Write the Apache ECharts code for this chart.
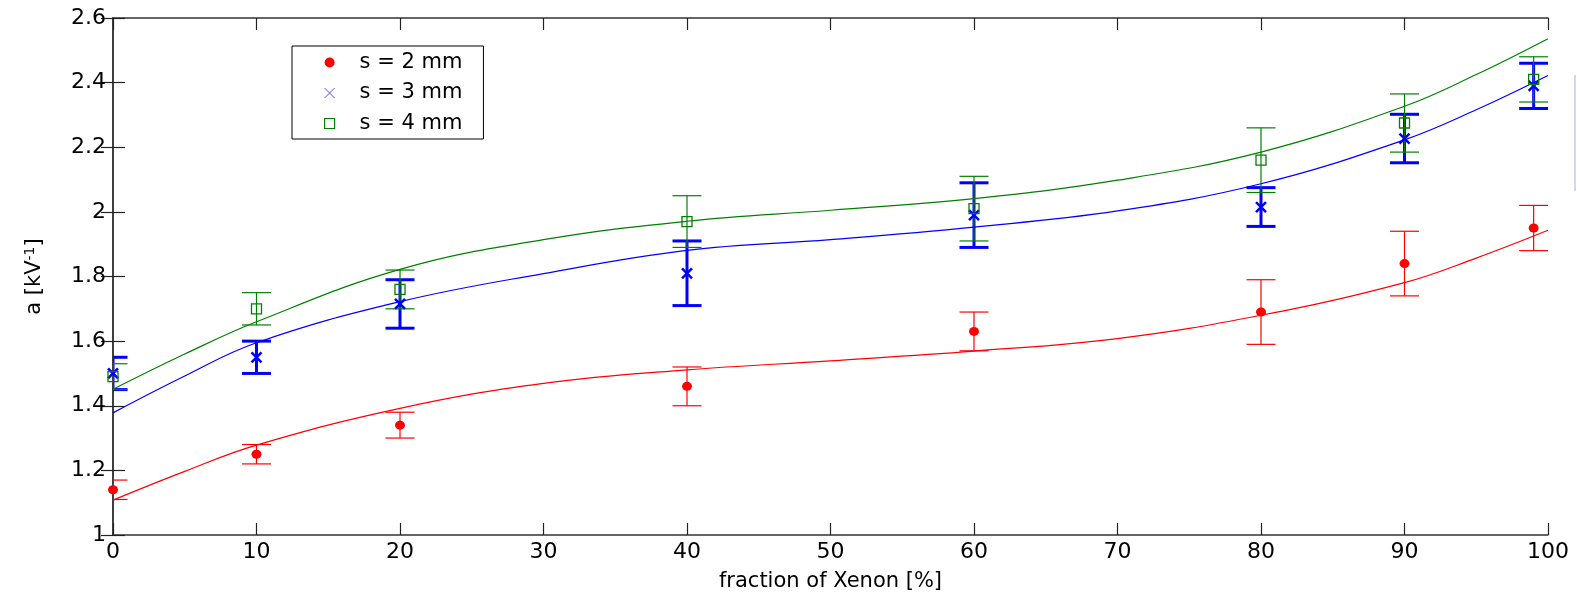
<!DOCTYPE html>
<html>
<head>
<meta charset="utf-8">
<script src="https://cdn.jsdelivr.net/npm/echarts@6/dist/echarts.min.js"></script>
<style>html,body{margin:0;padding:0;background:#fff;}#c{width:1577px;height:600px;}</style>
</head>
<body>
<div id="c"></div>
<script>
// Measured points
const xMeas = [0, 10, 20, 40, 60, 80, 90, 99];
const s2Val = [1.14, 1.25, 1.34, 1.46, 1.63, 1.69, 1.84, 1.95];
const s2Err = [0.03, 0.03, 0.04, 0.06, 0.06, 0.10, 0.10, 0.07];
const s3Val = [1.50, 1.55, 1.715, 1.81, 1.99, 2.015, 2.227, 2.39];
const s3Err = [0.05, 0.05, 0.075, 0.10, 0.10, 0.06, 0.075, 0.07];
const s4Val = [1.49, 1.70, 1.76, 1.97, 2.01, 2.16, 2.275, 2.41];
const s4Err = [0.04, 0.05, 0.06, 0.08, 0.10, 0.10, 0.09, 0.07];
// Fit curves
const xFit = [0, 5, 10, 20, 30, 40, 50, 60, 70, 80, 90, 95, 100];
const s2Fit = [1.108, 1.197, 1.278, 1.392, 1.469, 1.511, 1.539, 1.569, 1.608, 1.680, 1.781, 1.857, 1.943];
const s3Fit = [1.378, 1.492, 1.595, 1.722, 1.809, 1.881, 1.914, 1.953, 2.003, 2.087, 2.223, 2.316, 2.422];
const s4Fit = [1.451, 1.560, 1.660, 1.822, 1.914, 1.971, 2.005, 2.041, 2.098, 2.185, 2.327, 2.425, 2.536];
const names = ['s = 2 mm', 's = 3 mm', 's = 4 mm'];
const xTicks = {min: 0, max: 100, interval: 10};
const yTicks = {min: 1, max: 2.6, interval: 0.2};

const RED = '#ff0000', BLUE = '#0000ff', GREEN = '#008000';
const FONT = 'DejaVu Sans';

function pts(xs, ys) { return xs.map((x, i) => [x, ys[i]]); }
function errData(xs, v, e) { return xs.map((x, i) => [x, v[i] - e[i], v[i] + e[i]]); }
function errSeries(data, color, w, z) {
  return {
    type: 'custom', clip: true, z: z, silent: true,
    data: data, encode: {x: 0, y: [1, 2]},
    renderItem: function (params, api) {
      const x = api.value(0), lo = api.value(1), hi = api.value(2);
      const pH = api.coord([x, hi]), pL = api.coord([x, lo]);
      const hw = 14.5;
      const st = {stroke: color, lineWidth: w};
      return {type: 'group', children: [
        {type: 'line', shape: {x1: pH[0], y1: pH[1], x2: pL[0], y2: pL[1]}, style: st},
        {type: 'line', shape: {x1: pH[0] - hw, y1: pH[1], x2: pH[0] + hw, y2: pH[1]}, style: st},
        {type: 'line', shape: {x1: pL[0] - hw, y1: pL[1], x2: pL[0] + hw, y2: pL[1]}, style: st}
      ]};
    }
  };
}
function fitSeries(data, color) {
  return {type: 'line', data: data, smooth: 0.4, showSymbol: false, silent: true, z: 4,
    lineStyle: {color: color, width: 1.2}, itemStyle: {color: color}};
}

const axisLine = {show: true, lineStyle: {color: '#333', width: 1.5}};
const tick = {show: true, inside: true, length: 12, lineStyle: {color: '#222', width: 1.2}};

const chart = echarts.init(document.getElementById('c'), null, {renderer: 'canvas'});
chart.setOption({
  animation: false,
  backgroundColor: '#fff',
  textStyle: {fontFamily: FONT},
  grid: {left: 113, right: 29, top: 18, bottom: 65, containLabel: false},
  xAxis: [
    {type: 'value', min: xTicks.min, max: xTicks.max, interval: xTicks.interval, position: 'bottom',
     name: 'fraction of Xenon [%]', nameLocation: 'middle', nameGap: 36,
     nameTextStyle: {fontSize: 21, color: '#000', fontFamily: FONT},
     axisLine: axisLine, axisTick: tick, splitLine: {show: false},
     axisLabel: {fontSize: 22, color: '#000', margin: 6, fontFamily: FONT}},
    {type: 'value', min: xTicks.min, max: xTicks.max, interval: xTicks.interval, position: 'top',
     axisLine: axisLine, axisTick: tick, splitLine: {show: false}, axisLabel: {show: false}}
  ],
  yAxis: [
    {type: 'value', min: yTicks.min, max: yTicks.max, interval: yTicks.interval, position: 'left',
     name: 'a [kV{s|-1}]', nameLocation: 'middle', nameGap: 66, nameRotate: 90,
     nameTextStyle: {fontSize: 21, color: '#000', fontFamily: FONT,
       rich: {s: {fontSize: 14, color: '#000', fontFamily: FONT, verticalAlign: 'top', padding: [0, 0, 10, 0]}}},
     axisLine: axisLine, axisTick: tick, splitLine: {show: false},
     axisLabel: {fontSize: 22, color: '#000', margin: 7, fontFamily: FONT}},
    {type: 'value', min: yTicks.min, max: yTicks.max, interval: yTicks.interval, position: 'right',
     axisLine: axisLine, axisTick: tick, splitLine: {show: false}, axisLabel: {show: false}}
  ],
  legend: {
    orient: 'vertical', left: 292, top: 46,
    padding: [6, 21, 5, 32], itemGap: 9.5, itemWidth: 50, itemHeight: 10,
    borderColor: '#000', borderWidth: 1, backgroundColor: '#fff',
    textStyle: {fontSize: 21, color: '#000', fontFamily: FONT},
    symbolKeepAspect: true,
    data: [
      {name: names[0]},
      {name: names[1], itemStyle: {borderWidth: 1, borderColor: '#5050ff'}},
      {name: names[2], icon: 'path://M0 0H10V10H0Z', itemStyle: {borderWidth: 1.2}}
    ]
  },
  graphic: [
    {type: 'rect', left: 1574, top: 75, shape: {width: 2, height: 116}, style: {fill: '#d4d4f6'}, silent: true}
  ],
  series: [
    errSeries(errData(xMeas, s2Val, s2Err), RED, 1.2, 3),
    errSeries(errData(xMeas, s3Val, s3Err), BLUE, 3, 3),
    errSeries(errData(xMeas, s4Val, s4Err), GREEN, 1.2, 3),
    fitSeries(pts(xFit, s2Fit), RED),
    fitSeries(pts(xFit, s3Fit), BLUE),
    fitSeries(pts(xFit, s4Fit), GREEN),
    {type: 'scatter', name: names[0], data: pts(xMeas, s2Val), symbol: 'circle', symbolSize: [10, 9], z: 5,
     itemStyle: {color: RED, opacity: 1}},
    {type: 'scatter', name: names[1], data: pts(xMeas, s3Val), symbol: 'path://M0 0L10 10M10 0L0 10', symbolSize: 10, z: 5,
     itemStyle: {color: 'rgba(0,0,0,0)', borderColor: BLUE, borderWidth: 2.5, opacity: 1}},
    {type: 'scatter', name: names[2], data: pts(xMeas, s4Val), symbol: 'rect', symbolSize: 10, z: 5,
     itemStyle: {color: 'rgba(0,0,0,0)', borderColor: GREEN, borderWidth: 1.3, opacity: 1}}
  ]
});
</script>
</body>
</html>
